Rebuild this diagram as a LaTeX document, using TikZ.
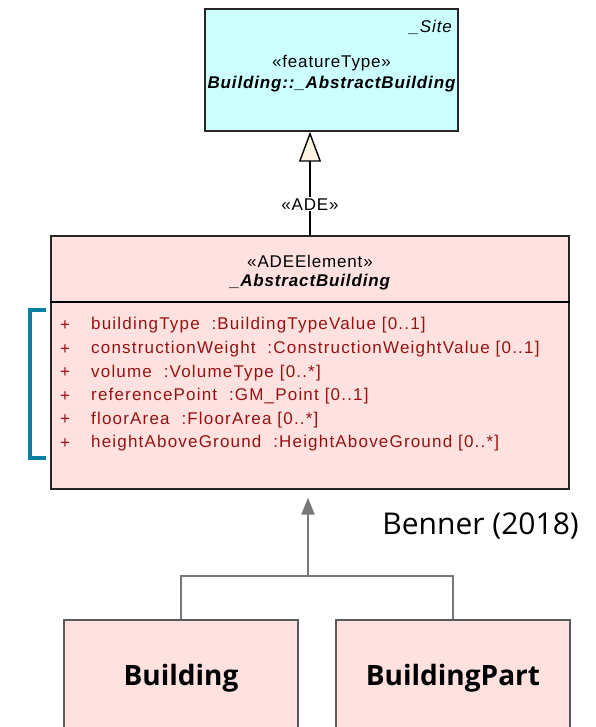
\documentclass[tikz,border=0pt]{standalone}
\usepackage{fontspec}
\setmainfont{Liberation Sans}
\newfontfamily\notofont{Open Sans}
\newfontfamily\headfont{Liberation Sans}[LetterSpace=5]
\newfontfamily\attrfont{Liberation Sans}[LetterSpace=7]
\usetikzlibrary{arrows.meta}

\definecolor{sitecyan}{HTML}{CCFFFF}
\definecolor{adepink}{HTML}{FFE2E0}
\definecolor{attrred}{HTML}{951212}
\definecolor{brackteal}{HTML}{0B7FA0}
\definecolor{linegray}{HTML}{777777}
\definecolor{tipcream}{HTML}{FDF3E3}

\begin{document}
\begin{tikzpicture}[x=1pt,y=-1pt]
    \tikzstyle{umlbox}=[draw=black!85,line width=1.4pt,inner sep=0pt]
    \tikzstyle{umltext}=[inner sep=0pt,font=\headfont\fontsize{17}{20}\selectfont]
    \tikzstyle{attr}=[inner sep=0pt,text=attrred,anchor=west,font=\attrfont\fontsize{17}{20}\selectfont]
    \tikzstyle{partbox}=[draw=black!65,line width=1.4pt,fill=adepink,inner sep=0pt,
      minimum height=116pt,font=\notofont\bfseries\fontsize{28}{32}\selectfont]
    \tikzstyle{grayline}=[draw=linegray,line width=2.2pt]

    \useasboundingbox (0,0) rectangle (595,727);

    % feature type box
    \node[umlbox,fill=sitecyan,minimum width=253pt,minimum height=122pt] (site) at (331.5,70) {};
    \node[umltext,anchor=east] (site-pkg) at (452,27) {\itshape\_Site};
    \node[umltext] (site-st) at (331.5,63) {«featureType»};
    \node[umltext] (site-nm) at (331.5,84) {\bfseries\itshape Building::\_AbstractBuilding};

    % ADE element box
    \node[umlbox,fill=adepink,minimum width=518pt,minimum height=253pt] (adeel) at (310,362.5) {};
    \node[umltext] (adeel-st) at (310,261) {«ADEElement»};
    \node[umltext] (adeel-nm) at (310,282) {\bfseries\itshape\_AbstractBuilding};
    \draw[line width=1.4pt] (adeel.west |- 0,302) -- (adeel.east |- 0,302);

    % attributes
    \foreach \attrtext [count=\i] in {
      {buildingType~~:BuildingTypeValue [0..1]},
      {constructionWeight~~:ConstructionWeightValue [0..1]},
      {volume~~:VolumeType [0..*]},
      {referencePoint~~:GM\_Point [0..1]},
      {floorArea~~:FloorArea [0..*]},
      {heightAboveGround~~:HeightAboveGround [0..*]}}
    {
      \node[attr] (plus-\i) at (60,{325.5+23.6*(\i-1)}) {+};
      \node[attr] (attr-\i) at (91,{325.5+23.6*(\i-1)}) {\attrtext};
    }

    % bracket
    \draw[brackteal,line width=4pt] (46,310) -- (30,310) -- (30,458) -- (46,458);

    % ADE generalization
    \draw[line width=1.4pt,-{Triangle[open,fill=tipcream,length=30pt,width=22pt]}]
      (adeel.north) -- node[pos=0.3,fill=white,inner sep=1pt,font=\headfont\fontsize{17}{20}\selectfont] (ade-lbl) {«ADE»}
      (adeel.north |- site.south);

    % building classes
    \node[partbox,minimum width=234pt] (bldg) at (181,678) {Building};
    \node[partbox,minimum width=234pt] (part) at (453,678) {BuildingPart};
    \coordinate (junc) at (308,576);

    \draw[grayline] (bldg.north) |- (junc) -| (part.north);
    \draw[grayline,shorten >=8pt,-{Triangle[length=17pt,width=13pt]}] (junc) -- (junc |- adeel.south);

    \node[anchor=east,inner sep=0pt,font=\notofont\fontsize{30}{34}\selectfont] (benner) at (579,526) {Benner (2018)};
\end{tikzpicture}
\end{document}
